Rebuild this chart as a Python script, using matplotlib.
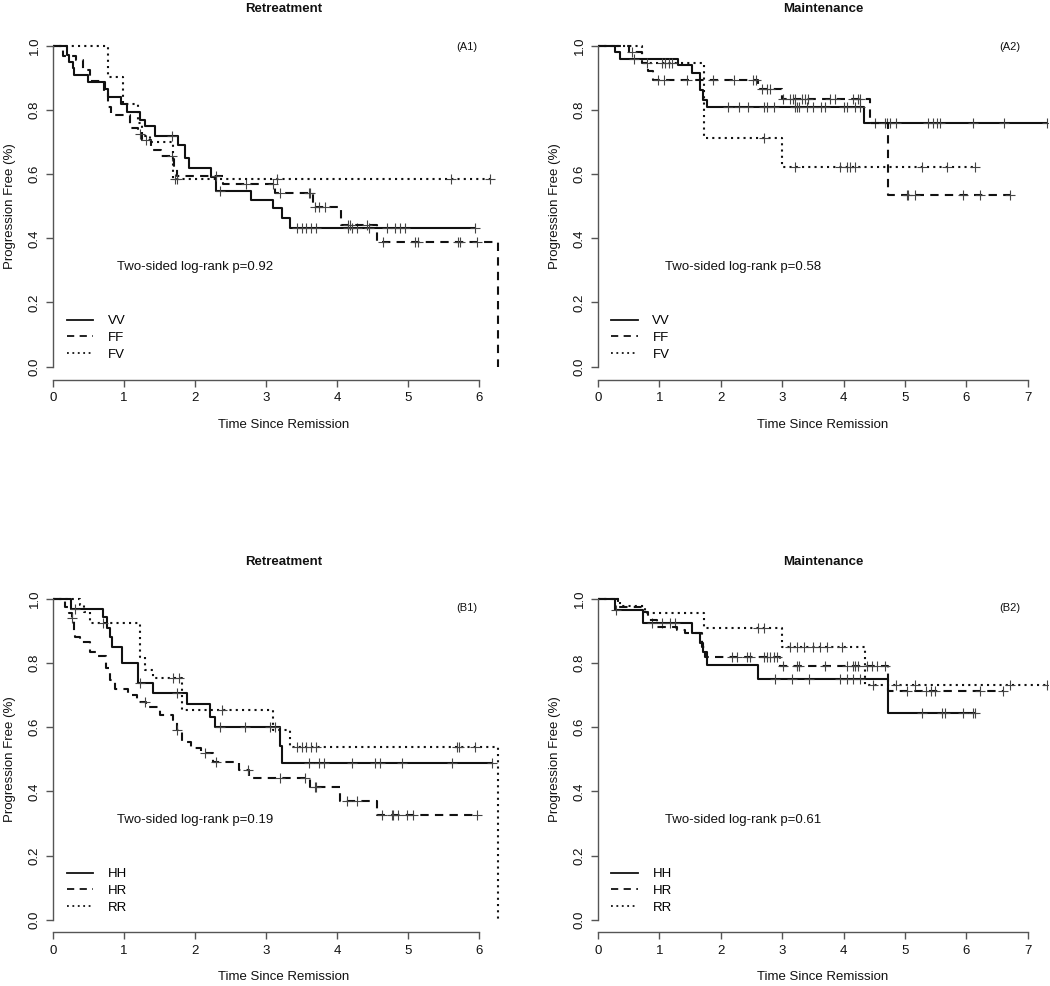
import matplotlib
matplotlib.use("Agg")
import matplotlib.pyplot as plt
import numpy as np

plt.rcParams['font.family'] = ['Liberation Sans', 'DejaVu Sans']

# ---- data ----
# each curve: drop times, survival level after each drop, end of follow-up, censor times

# (A1) Retreatment, VV / FF / FV
a1_vv_t = [0.19, 0.23, 0.28, 0.30, 0.49, 0.73, 0.77, 0.96, 1.04, 1.22, 1.29, 1.43, 1.76, 1.86, 1.92, 2.23, 2.30, 2.79, 3.10, 3.22, 3.34]
a1_vv_s = [0.97, 0.95, 0.93, 0.91, 0.888, 0.865, 0.84, 0.82, 0.795, 0.77, 0.75, 0.72, 0.69, 0.65, 0.62, 0.59, 0.546, 0.519, 0.493, 0.462, 0.433]
a1_vv_end = 5.94
a1_vv_cens = [1.67, 2.35, 3.43, 3.50, 3.57, 3.64, 3.71, 4.16, 4.21, 4.28, 4.45, 4.70, 4.82, 4.89, 4.96, 5.94]

a1_ff_t = [0.14, 0.33, 0.42, 0.52, 0.72, 0.78, 0.82, 1.08, 1.20, 1.26, 1.38, 1.52, 1.71, 1.74, 2.40, 3.12, 3.66, 4.05, 4.56, 6.27]
a1_ff_s = [0.968, 0.955, 0.926, 0.89, 0.86, 0.81, 0.785, 0.745, 0.725, 0.707, 0.676, 0.655, 0.62, 0.593, 0.57, 0.54, 0.497, 0.44, 0.39, 0.0]
a1_ff_end = 6.27
a1_ff_cens = [1.22, 1.31, 1.67, 2.30, 2.72, 3.10, 3.20, 3.60, 3.62, 3.69, 3.74, 3.83, 4.16, 4.18, 4.42, 4.65, 5.10, 5.14, 5.70, 5.73, 5.97]

a1_fv_t = [0.77, 0.99, 1.20, 1.26, 1.36, 1.69]
a1_fv_s = [0.904, 0.82, 0.76, 0.72, 0.70, 0.585]
a1_fv_end = 6.15
a1_fv_cens = [1.72, 1.75, 3.15, 5.61, 6.15]

# (A2) Maintenance, VV / FF / FV
a2_vv_t = [0.28, 0.36, 1.31, 1.53, 1.66, 1.71, 1.77, 4.33]
a2_vv_s = [0.98, 0.959, 0.94, 0.916, 0.862, 0.83, 0.81, 0.758]
a2_vv_end = 7.31
a2_vv_cens = [0.58, 2.12, 2.29, 2.45, 2.70, 2.75, 2.86, 3.21, 3.24, 3.27, 3.40, 3.51, 3.64, 3.70, 4.00, 4.05,
              4.19, 4.26, 4.51, 4.67, 4.71, 4.76, 4.86, 5.38, 5.46, 5.52, 5.57, 6.11, 6.61, 7.31]

a2_ff_t = [0.50, 0.72, 0.82, 0.90, 2.61, 2.99, 4.43, 4.72]
a2_ff_s = [0.98, 0.945, 0.92, 0.893, 0.864, 0.834, 0.76, 0.535]
a2_ff_end = 6.71
a2_ff_cens = [0.55, 0.98, 1.07, 1.45, 1.88, 2.21, 2.53, 2.58, 2.67, 2.75, 2.80, 3.02, 3.13, 3.18, 3.21, 3.32,
              3.37, 3.42, 3.78, 3.86, 4.16, 4.24, 4.27, 5.03, 5.05, 5.16, 5.95, 6.22, 6.71]

a2_fv_t = [0.71, 1.72, 2.99]
a2_fv_s = [0.945, 0.712, 0.622]
a2_fv_end = 6.14
a2_fv_cens = [0.80, 1.04, 1.09, 1.15, 1.20, 2.70, 3.21, 3.94, 4.05, 4.10, 4.19, 5.27, 5.68, 6.14]

# (B1) Retreatment, HH / HR / RR
b1_hh_t = [0.26, 0.71, 0.76, 0.80, 0.83, 0.97, 1.20, 1.41, 1.88, 2.21, 2.28, 3.19, 3.22]
b1_hh_s = [0.969, 0.945, 0.91, 0.883, 0.851, 0.80, 0.737, 0.706, 0.673, 0.633, 0.60, 0.54, 0.488]
b1_hh_end = 6.18
b1_hh_cens = [0.31, 1.23, 1.74, 2.35, 2.70, 3.06, 3.13, 3.60, 3.74, 3.81, 4.21, 4.54, 4.61, 4.91, 5.62, 6.18]

b1_hr_t = [0.17, 0.22, 0.27, 0.29, 0.31, 0.38, 0.52, 0.64, 0.75, 0.80, 0.87, 1.06, 1.18, 1.31, 1.51, 1.69,
           1.74, 1.81, 1.95, 2.08, 2.25, 2.62, 2.76, 3.62, 4.04, 4.56]
b1_hr_s = [0.976, 0.955, 0.94, 0.90, 0.88, 0.867, 0.836, 0.822, 0.784, 0.747, 0.72, 0.70, 0.68, 0.662, 0.638,
           0.623, 0.59, 0.555, 0.534, 0.52, 0.493, 0.467, 0.441, 0.415, 0.371, 0.326]
b1_hr_end = 5.97
b1_hr_cens = [0.27, 1.30, 1.74, 2.14, 2.30, 2.75, 3.20, 3.55, 3.69, 3.71, 4.14, 4.28, 4.63, 4.77, 4.79, 4.86,
              4.98, 5.07, 5.97]

b1_rr_t = [0.38, 0.43, 0.52, 1.23, 1.30, 1.41, 1.82, 3.10, 3.34, 6.27]
b1_rr_s = [0.981, 0.96, 0.924, 0.82, 0.78, 0.753, 0.654, 0.59, 0.539, 0.0]
b1_rr_end = 6.27
b1_rr_cens = [0.70, 1.69, 1.77, 2.38, 3.43, 3.50, 3.57, 3.64, 3.71, 5.69, 5.72, 5.94]

# (B2) Maintenance, HH / HR / RR
b2_hh_t = [0.28, 0.74, 1.53, 1.66, 1.71, 1.77, 2.61, 4.73]
b2_hh_s = [0.966, 0.926, 0.893, 0.862, 0.836, 0.794, 0.75, 0.644]
b2_hh_end = 6.14
b2_hh_cens = [0.30, 0.88, 1.04, 1.17, 1.26, 2.89, 3.16, 3.43, 3.94, 4.05, 4.16, 4.27, 5.27, 5.60, 5.65, 5.95, 6.11, 6.14]

b2_hr_t = [0.33, 0.71, 0.82, 0.96, 1.28, 1.42, 1.69, 1.75, 2.97, 4.73]
b2_hr_s = [0.975, 0.96, 0.934, 0.914, 0.903, 0.893, 0.85, 0.82, 0.79, 0.714]
b2_hr_end = 6.60
b2_hr_cens = [2.18, 2.26, 2.42, 2.48, 2.70, 2.75, 2.80, 2.86, 2.91, 3.02, 3.24, 3.27, 3.70, 4.05, 4.16, 4.19,
              4.24, 4.38, 4.46, 4.54, 4.67, 5.03, 5.35, 5.43, 5.49, 6.22, 6.60]

b2_rr_t = [0.36, 0.76, 1.72, 2.99, 4.35]
b2_rr_s = [0.978, 0.957, 0.909, 0.851, 0.732]
b2_rr_end = 7.31
b2_rr_cens = [2.61, 2.70, 3.13, 3.24, 3.35, 3.51, 3.62, 3.73, 3.97, 4.48, 4.86, 5.16, 6.71, 7.31]

titles = ["Retreatment", "Maintenance", "Retreatment", "Maintenance"]
tags = ["(A1)", "(A2)", "(B1)", "(B2)"]
pvals = ["Two-sided log-rank p=0.92", "Two-sided log-rank p=0.58",
         "Two-sided log-rank p=0.19", "Two-sided log-rank p=0.61"]
groups_a = ["VV", "FF", "FV"]
groups_b = ["HH", "HR", "RR"]

styles = [dict(ls="-"), dict(ls=(0, (4, 3))), dict(ls=(0, (1, 2)))]
INK = "#111111"
AXC = "#555555"


def km(ax, times, surv, end, cens, style, label):
    x = np.r_[0.0, times, end]
    y = np.r_[1.0, surv, surv[-1]]
    ax.step(x, y, where="post", color=INK, lw=1.5, label=label, **style)
    tt = np.asarray(times)
    lev = np.r_[1.0, surv]
    cy = lev[np.searchsorted(tt, cens, side="right")]
    ax.plot(cens, cy, ls="none", marker="+", ms=7, mew=0.8, color="#444444")


def frame(ax, xmax, nticks):
    ax.set_xlim(0, xmax)
    ax.set_ylim(-0.04, 1.04)
    for s in ["top", "right"]:
        ax.spines[s].set_visible(False)
    for s in ["left", "bottom"]:
        ax.spines[s].set_color(AXC)
        ax.spines[s].set_linewidth(1.0)
    ax.spines["bottom"].set_bounds(0, nticks)
    ax.spines["left"].set_bounds(0, 1)
    ax.set_xticks(range(nticks + 1))
    ax.set_yticks([0, 0.2, 0.4, 0.6, 0.8, 1.0])
    ax.set_yticklabels(["0.0", "0.2", "0.4", "0.6", "0.8", "1.0"], rotation=90, va="center")
    ax.tick_params(direction="out", length=5, width=1.0, color=AXC, labelsize=9.5, labelcolor=INK, pad=4)
    ax.set_xlabel("Time Since Remission", fontsize=9.5, color=INK, va="center")
    ax.set_ylabel("Progression Free (%)", fontsize=9.5, color=INK, va="center")


fig = plt.figure(figsize=(10.5, 9.86), dpi=100)
pos = [[0.0505, 0.6151, 0.44, 0.3515], [0.5695, 0.6151, 0.4286, 0.3515],
       [0.0505, 0.0543, 0.44, 0.3512], [0.5695, 0.0543, 0.4286, 0.3512]]
xmaxs = [6.507, 7.33, 6.507, 7.33]
nt = [6, 7, 6, 7]
curves = [
    [(a1_vv_t, a1_vv_s, a1_vv_end, a1_vv_cens), (a1_ff_t, a1_ff_s, a1_ff_end, a1_ff_cens), (a1_fv_t, a1_fv_s, a1_fv_end, a1_fv_cens)],
    [(a2_vv_t, a2_vv_s, a2_vv_end, a2_vv_cens), (a2_ff_t, a2_ff_s, a2_ff_end, a2_ff_cens), (a2_fv_t, a2_fv_s, a2_fv_end, a2_fv_cens)],
    [(b1_hh_t, b1_hh_s, b1_hh_end, b1_hh_cens), (b1_hr_t, b1_hr_s, b1_hr_end, b1_hr_cens), (b1_rr_t, b1_rr_s, b1_rr_end, b1_rr_cens)],
    [(b2_hh_t, b2_hh_s, b2_hh_end, b2_hh_cens), (b2_hr_t, b2_hr_s, b2_hr_end, b2_hr_cens), (b2_rr_t, b2_rr_s, b2_rr_end, b2_rr_cens)],
]
ptext_x = [2.0, 2.36, 2.0, 2.36]
tag_xy = [(5.83, 0.996), (6.71, 0.996), (5.83, 0.972), (6.71, 0.972)]

for i in range(4):
    ax = fig.add_axes(pos[i])
    frame(ax, xmaxs[i], nt[i])
    names = groups_a if i < 2 else groups_b
    for (t, s, e, c), st, nm in zip(curves[i], styles, names):
        km(ax, t, s, e, c, st, nm)
    ax.text(0.5, 1.07, titles[i], transform=ax.transAxes, ha="center", va="center",
            fontsize=9.5, fontweight="bold", color=INK)
    ax.text(tag_xy[i][0], tag_xy[i][1], tags[i], ha="center", va="center", fontsize=8, color=INK)
    ax.text(ptext_x[i], 0.31, pvals[i], ha="center", va="center", fontsize=9.5, color=INK)
    leg = ax.legend(loc="center left", bbox_to_anchor=(0.03, 0.12), frameon=False, fontsize=9.5,
                    handlelength=2.0, handletextpad=1.1, labelspacing=0.35, borderpad=0, borderaxespad=0)
    for h in leg.get_lines():
        h.set_linewidth(1.3)
    w = pos[i][2] * 1050
    h_ = pos[i][3] * 986
    ax.yaxis.set_label_coords(-43 / w, 0.5)
    ax.xaxis.set_label_coords(0.5, -45 / h_)

fig.savefig("out.png", dpi=100)
